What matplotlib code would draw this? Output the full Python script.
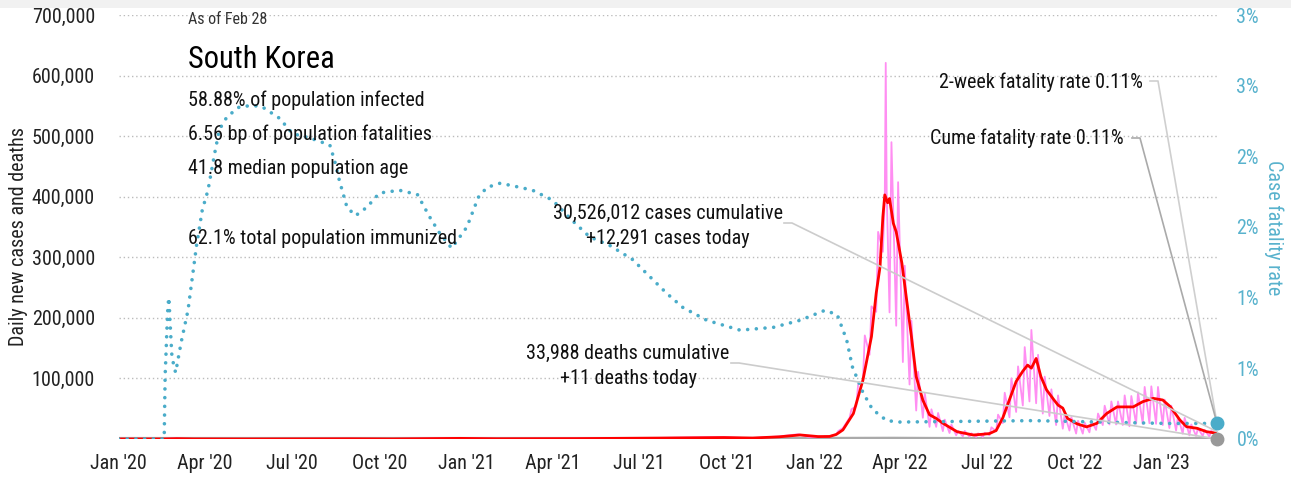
import numpy as np
import pandas as pd
import matplotlib
matplotlib.use("Agg")
import matplotlib.pyplot as plt
import matplotlib.dates as mdates
from matplotlib import font_manager
from matplotlib.lines import Line2D
from matplotlib.patches import Rectangle

# daily new cases (raw reports, weekly low/high)
case_dates = [
    "2020-01-01", "2020-02-18", "2020-02-29", "2020-03-15", "2020-05-01", "2020-08-27",
    "2020-10-15", "2020-12-25", "2021-02-01", "2021-04-20", "2021-07-14", "2021-09-25",
    "2021-10-25", "2021-11-24", "2021-12-15", "2021-12-27",
    "2022-01-03", "2022-01-05", "2022-01-10", "2022-01-12", "2022-01-17", "2022-01-19",
    "2022-01-24", "2022-01-26", "2022-01-31", "2022-02-02", "2022-02-07", "2022-02-09",
    "2022-02-14", "2022-02-16", "2022-02-21", "2022-02-23", "2022-02-28", "2022-03-02",
    "2022-03-07", "2022-03-09", "2022-03-14", "2022-03-16", "2022-03-17", "2022-03-18",
    "2022-03-21", "2022-03-23", "2022-03-28", "2022-03-30", "2022-04-04", "2022-04-06",
    "2022-04-11", "2022-04-13", "2022-04-18", "2022-04-20", "2022-04-25", "2022-04-27",
    "2022-05-02", "2022-05-04", "2022-05-09", "2022-05-11", "2022-05-16", "2022-05-18",
    "2022-05-23", "2022-05-25", "2022-05-30", "2022-06-01", "2022-06-06", "2022-06-08",
    "2022-06-13", "2022-06-15", "2022-06-20", "2022-06-22", "2022-06-27", "2022-06-29",
    "2022-07-04", "2022-07-06", "2022-07-11", "2022-07-13", "2022-07-18", "2022-07-20",
    "2022-07-25", "2022-07-27", "2022-08-01", "2022-08-03", "2022-08-08", "2022-08-10",
    "2022-08-15", "2022-08-17", "2022-08-22", "2022-08-24", "2022-08-29", "2022-08-31",
    "2022-09-05", "2022-09-07", "2022-09-12", "2022-09-14", "2022-09-19", "2022-09-21",
    "2022-09-26", "2022-09-28", "2022-10-03", "2022-10-05", "2022-10-10", "2022-10-12",
    "2022-10-17", "2022-10-19", "2022-10-24", "2022-10-26", "2022-10-31", "2022-11-02",
    "2022-11-07", "2022-11-09", "2022-11-14", "2022-11-16", "2022-11-21", "2022-11-23",
    "2022-11-28", "2022-11-30", "2022-12-05", "2022-12-07", "2022-12-12", "2022-12-14",
    "2022-12-19", "2022-12-21", "2022-12-26", "2022-12-28", "2023-01-02", "2023-01-04",
    "2023-01-09", "2023-01-11", "2023-01-16", "2023-01-18", "2023-01-23", "2023-01-25",
    "2023-01-30", "2023-02-01", "2023-02-06", "2023-02-08", "2023-02-13", "2023-02-15",
    "2023-02-20", "2023-02-22", "2023-02-27", "2023-02-28",
]
case_vals = [
    0, 0, 909, 76, 9, 441,
    110, 1241, 305, 731, 1615, 3270,
    1266, 4115, 7850, 3100,
    3100, 4400, 3000, 4400, 3900, 5800,
    7500, 13000, 18000, 22900, 35000, 49000,
    54000, 90000, 95000, 171000, 139000, 219000,
    210000, 342000, 309000, 400000, 621000, 407000,
    209000, 490000, 187000, 424000, 127000, 286000,
    90000, 195000, 47000, 111000, 35000, 76000,
    20000, 49000, 20000, 43000, 13000, 32000,
    9900, 23900, 6100, 13300, 4400, 13300,
    3800, 9400, 3400, 9300, 3400, 10400,
    6200, 19300, 12700, 40200, 26300, 76400,
    35800, 100200, 44600, 119900, 55300, 151700,
    62000, 180000, 59000, 139000, 42000, 103000,
    38000, 82000, 23000, 72000, 17000, 41000,
    14000, 36000, 9000, 30000, 8900, 27000,
    11000, 30000, 15000, 42000, 23000, 55000,
    24000, 62000, 24000, 62000, 23000, 72000,
    21000, 71000, 25000, 77000, 25000, 86000,
    26000, 87000, 25000, 86000, 23000, 65000,
    18000, 55000, 14000, 37000, 8800, 35000,
    6000, 24000, 5000, 18000, 5000, 15000,
    4000, 14000, 4000, 12291,
]

# 7-day average of new cases
avg_dates = [
    "2020-01-01", "2020-02-18", "2020-03-02", "2020-03-20", "2020-05-15", "2020-08-30",
    "2020-10-15", "2020-12-25", "2021-02-01", "2021-04-25", "2021-07-25", "2021-09-28",
    "2021-10-28", "2021-11-25", "2021-12-17", "2022-01-05", "2022-01-17", "2022-01-24",
    "2022-01-31", "2022-02-11", "2022-02-21", "2022-03-02", "2022-03-07", "2022-03-11",
    "2022-03-14", "2022-03-16", "2022-03-19", "2022-03-21", "2022-03-25", "2022-03-28",
    "2022-04-03", "2022-04-08", "2022-04-13", "2022-04-18", "2022-04-25", "2022-05-02",
    "2022-05-09", "2022-05-16", "2022-05-31", "2022-06-17", "2022-06-28", "2022-07-04",
    "2022-07-11", "2022-07-18", "2022-07-25", "2022-08-01", "2022-08-08", "2022-08-13",
    "2022-08-17", "2022-08-22", "2022-08-27", "2022-09-02", "2022-09-10", "2022-09-14",
    "2022-09-19", "2022-09-24", "2022-10-04", "2022-10-14", "2022-10-25", "2022-11-04",
    "2022-11-15", "2022-12-02", "2022-12-12", "2022-12-23", "2023-01-02", "2023-01-10",
    "2023-01-20", "2023-01-27", "2023-02-07", "2023-02-17", "2023-02-28",
]
avg_vals = [
    0, 0, 590, 110, 15, 330,
    80, 1030, 380, 640, 1540, 2400,
    1600, 3600, 6700, 4000, 4200, 7500,
    15000, 42000, 97000, 169000, 241000, 284000,
    367000, 403000, 390000, 397000, 356000, 342000,
    290000, 229000, 169000, 103000, 64000, 40000,
    34000, 26000, 12000, 6600, 8000, 9000,
    14000, 35000, 65000, 95000, 112000, 122000,
    117000, 133000, 103000, 81000, 64000, 56000,
    51000, 34000, 25000, 20000, 26000, 42000,
    53000, 53000, 61600, 67100, 64400, 53300,
    31400, 20300, 17700, 12100, 9400,
]

# daily deaths
death_dates = [
    "2020-01-01", "2020-03-15", "2020-09-01", "2020-12-25", "2021-06-01", "2021-12-20",
    "2022-03-24", "2022-05-15", "2022-07-01", "2022-08-25", "2022-10-15", "2022-12-25",
    "2023-02-28",
]
death_vals = [0, 6, 3, 20, 2, 70, 360, 40, 10, 70, 20, 55, 11]

# case fatality rate, percent
cfr_dates = [
    "2020-01-01", "2020-02-18", "2020-02-19", "2020-02-20", "2020-02-21", "2020-02-22",
    "2020-02-23", "2020-02-24", "2020-02-25", "2020-02-26", "2020-02-28", "2020-03-01",
    "2020-03-07", "2020-03-14", "2020-03-23", "2020-03-29", "2020-04-04", "2020-04-11",
    "2020-04-16", "2020-04-24", "2020-05-07", "2020-05-21", "2020-05-31", "2020-06-18",
    "2020-07-02", "2020-07-20", "2020-08-10", "2020-08-15", "2020-08-20", "2020-08-28",
    "2020-09-06", "2020-09-18", "2020-10-01", "2020-10-22", "2020-11-10", "2020-11-23",
    "2020-12-03", "2020-12-16", "2021-01-01", "2021-01-13", "2021-01-22", "2021-02-05",
    "2021-02-26", "2021-03-11", "2021-03-26", "2021-04-01", "2021-04-21", "2021-05-10",
    "2021-05-31", "2021-06-24", "2021-07-12", "2021-07-30", "2021-08-16", "2021-09-10",
    "2021-10-15", "2021-11-19", "2021-12-17", "2022-01-12", "2022-01-25", "2022-02-04",
    "2022-02-10", "2022-02-21", "2022-03-03", "2022-03-18", "2022-04-01", "2022-08-19",
    "2023-01-06", "2023-02-28",
]
cfr_vals = [
    0, 0, 0.45, 0.62, 0.80, 0.95,
    1.00, 0.85, 0.72, 0.60, 0.52, 0.47,
    0.69, 0.91, 1.37, 1.62, 1.76, 2.02,
    2.19, 2.28, 2.35, 2.36, 2.35, 2.27,
    2.16, 2.13, 2.08, 1.97, 1.83, 1.64,
    1.58, 1.64, 1.74, 1.76, 1.73, 1.57,
    1.46, 1.35, 1.50, 1.71, 1.78, 1.81,
    1.78, 1.76, 1.71, 1.69, 1.55, 1.43,
    1.37, 1.27, 1.15, 1.03, 0.93, 0.84,
    0.77, 0.79, 0.84, 0.91, 0.88, 0.70,
    0.51, 0.33, 0.21, 0.13, 0.12, 0.13,
    0.11, 0.11,
]

left_ticks = [100000, 200000, 300000, 400000, 500000, 600000, 700000]
right_ticks = [0, 0.5, 1.0, 1.5, 2.0, 2.5, 3.0]
right_labels = ["0%", "1%", "1%", "2%", "2%", "3%", "3%"]

stats = [
    "58.88% of population infected",
    "6.56 bp of population fatalities",
    "41.8 median population age",
]


def narrow_family():
    for name in ["Liberation Sans Narrow", "DejaVu Sans Condensed", "Roboto Condensed"]:
        try:
            font_manager.findfont(font_manager.FontProperties(family=name),
                                  fallback_to_default=False)
            return name
        except ValueError:
            pass
    return "DejaVu Sans"


plt.rcParams["font.family"] = [narrow_family(), "DejaVu Sans"]

W, H = 1291, 480
fig = plt.figure(figsize=(W / 100, H / 100), dpi=100)
fig.add_artist(Rectangle((0, 1 - 8 / H), 1, 8 / H, transform=fig.transFigure,
                         color="#f1f1f1", lw=0))

x0, x1, ytop, ybot = 118.5, 1217, 15, 439
ax = fig.add_axes([x0 / W, 1 - ybot / H, (x1 - x0) / W, (ybot - ytop) / H])
ax2 = ax.twinx()

start, end = pd.Timestamp("2020-01-01"), pd.Timestamp("2023-02-28")
ax.set_xlim(start, end)
ax.set_ylim(0, 700000)
ax2.set_ylim(0, 3)

ax.plot(pd.to_datetime(death_dates), death_vals, color="#aaaaaa", lw=3, zorder=2,
        solid_capstyle="butt")
ax.plot(pd.to_datetime(case_dates), case_vals, color="#ff8ef2", lw=1.3, zorder=3)
ax.plot(pd.to_datetime(avg_dates), avg_vals, color="#ff0000", lw=2, zorder=4)
ax2.plot(pd.to_datetime(cfr_dates), cfr_vals, color="#4aacc9", lw=2.6,
         linestyle=(0, (0.01, 2.4)), dash_capstyle="round", zorder=3)

ax2.plot([pd.Timestamp(death_dates[-1])], [death_vals[-1] * 3 / 700000], "o",
         color="#999999", ms=9, clip_on=False, zorder=6)
ax2.plot([pd.Timestamp(cfr_dates[-1])], [cfr_vals[-1]], "o", color="#4aacc9",
         ms=9, clip_on=False, zorder=6)

for a in (ax, ax2):
    for s in a.spines.values():
        s.set_visible(False)
    a.tick_params(length=0)

ax.set_yticks(left_ticks)
ax.set_yticklabels([f"{v:,}" for v in left_ticks], fontsize=14.5, color="#222222")
ax.tick_params(axis="y", pad=17)
ax.yaxis.grid(True, linestyle=(0, (1, 2)), color="#bcbcbc", lw=1)
ax.set_axisbelow(True)

ax2.set_yticks(right_ticks)
ax2.set_yticklabels(right_labels, fontsize=14.5, color="#58b2cd")
ax2.tick_params(axis="y", pad=14)

qticks = pd.date_range("2020-01-01", "2023-01-01", freq="QS")
ax.set_xticks(qticks)
ax.set_xticklabels([d.strftime("%b '%y") for d in qticks], fontsize=14.5, color="#222222")
ax.tick_params(axis="x", pad=11)

fig.text(19 / W, 1 - 237 / H, "Daily new cases and deaths", rotation=90,
         ha="center", va="center", fontsize=14.5, color="#222222")
fig.text(1274 / W, 1 - 228 / H, "Case fatality rate", rotation=270,
         ha="center", va="center", fontsize=14.5, color="#58b2cd")


def put(x, y, s, **kw):
    kw.setdefault("fontsize", 14.5)
    kw.setdefault("color", "#111111")
    kw.setdefault("va", "center")
    fig.text(x / W, 1 - y / H, s, **kw)


put(188, 20, "As of Feb 28", fontsize=11.5, color="#333333")
put(188, 60, "South Korea", fontsize=22, color="#000000")
for i, s in enumerate(stats):
    put(188, 100 + i * 34.5, s)
put(188, 238, "62.1% total population immunized")
put(668, 213, f"{30526012:,} cases cumulative", ha="center")
put(668, 238, f"+{case_vals[-1]:,} cases today", ha="center")
put(628, 353, f"{33988:,} deaths cumulative", ha="center")
put(628, 378, f"+{death_vals[-1]} deaths today", ha="center")
put(1143, 82, f"2-week fatality rate {cfr_vals[-1]:.2f}%", ha="right")
put(1124, 138, f"Cume fatality rate {cfr_vals[-1]:.2f}%", ha="right")


def leader(px, py, target, axis, color):
    # short horizontal stub from the label, then straight to the point
    tx, ty = axis.transData.transform((mdates.date2num(target[0]), target[1]))
    fx, fy = fig.transFigure.inverted().transform((tx, ty))
    xs = [px / W, (px + 8) / W, fx]
    ys = [1 - py / H, 1 - py / H, fy]
    ax2.add_line(Line2D(xs, ys, transform=fig.transFigure, color=color, lw=1.2,
                        clip_on=False, zorder=5))


last = pd.Timestamp("2023-02-28")
leader(784, 223, (last, case_vals[-1]), ax, "#cccccc")
leader(731, 363, (last, death_vals[-1]), ax, "#cccccc")
leader(1150, 81, (last, cfr_vals[-1]), ax2, "#cfcfcf")
leader(1132, 138, (last, cfr_vals[-1]), ax2, "#aaaaaa")

fig.savefig("out.png", dpi=100)
